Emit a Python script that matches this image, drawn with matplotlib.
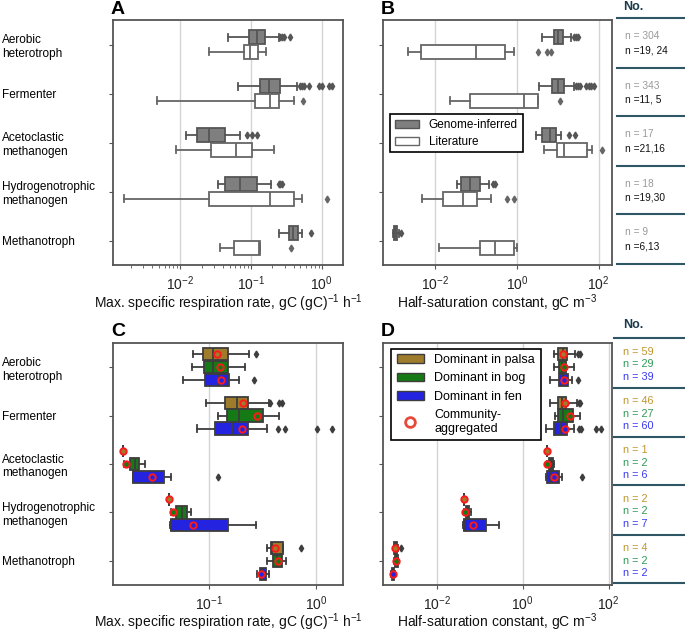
import numpy as np
import matplotlib.pyplot as plt
from matplotlib.patches import Patch
from matplotlib.lines import Line2D
from matplotlib.ticker import NullLocator

plt.rcParams['font.family'] = ['Liberation Sans', 'DejaVu Sans']
plt.rcParams['mathtext.fontset'] = 'custom'
plt.rcParams['mathtext.rm'] = 'Liberation Sans'
plt.rcParams['mathtext.it'] = 'Liberation Sans:italic'
plt.rcParams['mathtext.bf'] = 'Liberation Sans:bold'

categories = ['Aerobic\nheterotroph', 'Fermenter', 'Acetoclastic\nmethanogen',
              'Hydrogenotrophic\nmethanogen', 'Methanotroph']

# box stats per category: [whislo, q1, median, q3, whishi]
# Panel A: max. specific respiration rate
a_genome = [[0.048, 0.094, 0.12, 0.159, 0.246],
            [0.065, 0.132, 0.18, 0.26, 0.445],
            [0.0122, 0.0173, 0.0252, 0.0425, 0.0708],
            [0.0339, 0.0435, 0.069, 0.122, 0.194],
            [0.246, 0.347, 0.39, 0.456, 0.525]]
a_genome_out = [[0.26, 0.274, 0.289, 0.35],
                [0.486, 0.52, 0.554, 0.652, 0.90, 1.0, 1.25, 1.39],
                [0.088, 0.103, 0.122],
                [0.246, 0.26, 0.274],
                [0.71]]
a_lit = [[0.0255, 0.0787, 0.098, 0.124, 0.164],
         [0.0047, 0.115, 0.184, 0.246, 0.40],
         [0.0088, 0.0272, 0.0608, 0.103, 0.209],
         [0.00163, 0.0255, 0.184, 0.409, 0.53],
         [0.0369, 0.0569, 0.13, 0.134, 0.135]]
a_lit_out = [[], [0.54], [], [1.18], [0.37]]

# Panel B: half-saturation constant
b_genome = [[4.09, 7.9, 10.1, 13.4, 21.4],
            [3.4, 7.2, 10.1, 14.4, 25.4],
            [2.97, 4.02, 6.31, 9.02, 12.2],
            [0.034, 0.0434, 0.0693, 0.122, 0.21],
            [0.00092, 0.00099, 0.00105, 0.00115, 0.00126]]
b_genome_out = [[25.4, 28.4, 30.6],
                [27.9, 30.6, 34.3, 49.9, 56.9, 66.1, 75.5],
                [19.1, 26.9],
                [0.258, 0.284],
                [0.00144]]
b_lit = [[0.0021, 0.00445, 0.101, 0.499, 0.86],
         [0.0224, 0.0693, 1.46, 3.21, 3.21],
         [4.67, 9.55, 14.4, 51.8, 68.7],
         [0.00471, 0.0154, 0.0476, 0.105, 0.231],
         [0.0125, 0.122, 0.284, 0.828, 1.0]]
b_lit_out = [[3.27, 5.43, 6.81], [11.1], [121], [0.569, 0.828], []]

# Panel C: respiration rate by habitat
c_palsa = [[0.0704, 0.0885, 0.110, 0.152, 0.238],
           [0.0938, 0.141, 0.181, 0.233, 0.366],
           [0.0158, 0.0158, 0.0158, 0.0158, 0.0158],
           [0.0426, 0.0426, 0.0426, 0.0426, 0.0426],
           [0.351, 0.377, 0.39, 0.488, 0.488]]
c_palsa_out = [[0.275], [0.371, 0.454, 0.477], [], [], [0.719]]
c_palsa_comm = [0.12, 0.207, 0.0158, 0.0426, 0.414]
c_bog = [[0.069, 0.0898, 0.110, 0.152, 0.217],
         [0.122, 0.146, 0.192, 0.322, 0.454],
         [0.0161, 0.0183, 0.0203, 0.0223, 0.0252],
         [0.0442, 0.0492, 0.0556, 0.0618, 0.0674],
         [0.351, 0.394, 0.43, 0.477, 0.521]]
c_bog_out = [[], [], [], [], []]
c_bog_comm = [0.127, 0.279, 0.017, 0.0465, 0.444]
c_fen = [[0.0568, 0.0924, 0.121, 0.155, 0.192],
         [0.0767, 0.114, 0.163, 0.233, 0.346],
         [0.0194, 0.0196, 0.0197, 0.0383, 0.0442],
         [0.0433, 0.044, 0.0445, 0.149, 0.275],
         [0.279, 0.3, 0.322, 0.341, 0.366]]
c_fen_out = [[0.264], [0.444, 0.513, 1.01, 1.40], [0.122], [], []]
c_fen_comm = [0.13, 0.202, 0.0295, 0.0704, 0.304]

# Panel D: half-saturation constant by habitat
d_palsa = [[5.22, 6.59, 8.47, 10.7, 16.7],
           [4.22, 6.48, 8.19, 10.3, 18.3],
           [3.66, 3.66, 3.66, 3.66, 3.66],
           [0.0418, 0.0418, 0.0418, 0.0418, 0.0418],
           [0.00098, 0.001, 0.00107, 0.00117, 0.00126]]
d_palsa_out = [[19.0, 21.1], [20.7, 21.1], [], [], [0.00145]]
d_palsa_comm = [8.47, 9.44, 3.66, 0.0418, 0.00107]
d_bog = [[5.22, 7.1, 8.19, 10.3, 15.3],
         [5.72, 6.59, 8.47, 14.5, 21.1],
         [3.72, 4.0, 4.46, 5.05, 5.42],
         [0.0418, 0.0466, 0.0519, 0.0567, 0.063],
         [0.00101, 0.00103, 0.00112, 0.0012, 0.00122]]
d_bog_out = [[], [], [], [], []]
d_bog_comm = [9.27, 12.8, 3.72, 0.0442, 0.00112]
d_fen = [[4.22, 6.97, 8.19, 11.1, 13.7],
         [3.53, 5.22, 7.48, 10.7, 15.3],
         [3.53, 3.62, 4.61, 6.97, 8.19],
         [0.041, 0.0418, 0.0426, 0.141, 0.274],
         [0.00086, 0.00088, 0.00094, 0.001, 0.00103]]
d_fen_out = [[19.0], [20.7, 22.6, 50.7, 66.2], [23.9], [], []]
d_fen_comm = [9.27, 9.44, 5.42, 0.069, 0.00094]

# sample counts for the side tables
genome_n = ['304', '343', '17', '18', '9']
lit_n = ['19, 24', '11, 5', '21,16', '19,30', '6,13']
palsa_n = [59, 46, 1, 2, 4]
bog_n = [29, 27, 2, 2, 2]
fen_n = [39, 60, 6, 7, 2]

PALSA = '#9e7c2b'
BOG = '#157a15'
FEN = '#2424e0'
EDGE = '#3d3d3d'


def draw_boxes(ax, stats, outs, pos, width, face, edge):
    bx = [dict(whislo=s[0], q1=s[1], med=s[2], q3=s[3], whishi=s[4], fliers=o)
          for s, o in zip(stats, outs)]
    ax.bxp(bx, positions=pos, widths=width, orientation='horizontal',
           patch_artist=True, showfliers=True,
           boxprops=dict(facecolor=face, edgecolor=edge, linewidth=1.3),
           medianprops=dict(color=edge, linewidth=1.3),
           whiskerprops=dict(color=edge, linewidth=1.3),
           capprops=dict(color=edge, linewidth=1.3),
           flierprops=dict(marker='d', markersize=3.5, markerfacecolor=edge,
                           markeredgecolor=edge, linestyle='none'))


def style(ax, xlim, xticks, ylabels, minor=False):
    ax.set_xscale('log')
    ax.set_xlim(*xlim)
    ax.set_ylim(4.5, -0.5)
    ax.set_xticks(xticks)
    if not minor:
        ax.xaxis.set_minor_locator(NullLocator())
    ax.set_yticks(range(5))
    ax.set_yticklabels(categories if ylabels else [], fontsize=8.5, ha='left')
    ax.tick_params(axis='y', pad=77 if ylabels else 3, length=3, color='#555555')
    ax.tick_params(axis='x', labelsize=10, length=3, pad=3.5, color='#555555',
                   labelcolor='#222222')
    ax.tick_params(axis='x', which='minor', length=2, color='#555555')
    ax.xaxis.grid(True, which='major', color='#d4d4d4', linewidth=1)
    ax.set_axisbelow(True)
    for s in ax.spines.values():
        s.set_color('#555555')
        s.set_linewidth(1.3)


fig = plt.figure(figsize=(6.85, 6.32), dpi=100)
W, H = 685, 632


def add_ax(x0, x1, y0, y1):
    return fig.add_axes([x0 / W, 1 - y1 / H, (x1 - x0) / W, (y1 - y0) / H])


axA = add_ax(113, 343, 20, 265)
axB = add_ax(383, 612, 20, 265)
axC = add_ax(113, 343, 343, 585)
axD = add_ax(383, 612, 343, 585)

pos = np.arange(5)
for ax, g, go, l, lo in [(axA, a_genome, a_genome_out, a_lit, a_lit_out),
                         (axB, b_genome, b_genome_out, b_lit, b_lit_out)]:
    draw_boxes(ax, g, go, pos - 0.15, 0.29, '#7f7f7f', '#555555')
    draw_boxes(ax, l, lo, pos + 0.15, 0.29, 'white', '#666666')

groups_c = [(c_palsa, c_palsa_out, c_palsa_comm, PALSA),
            (c_bog, c_bog_out, c_bog_comm, BOG),
            (c_fen, c_fen_out, c_fen_comm, FEN)]
groups_d = [(d_palsa, d_palsa_out, d_palsa_comm, PALSA),
            (d_bog, d_bog_out, d_bog_comm, BOG),
            (d_fen, d_fen_out, d_fen_comm, FEN)]
for ax, groups in [(axC, groups_c), (axD, groups_d)]:
    for k, (st, out, comm, col) in enumerate(groups):
        p = pos + (k - 1) * 0.267
        draw_boxes(ax, st, out, p, 0.255, col, EDGE)
        ax.plot(comm, p, 'o', ms=4.6, mfc=col, mec='#ff1a1a', mew=1.4,
                linestyle='none', zorder=4)

style(axA, (10 ** -2.95, 10 ** 0.3), [1e-2, 1e-1, 1e0], True, minor=True)
style(axB, (10 ** -3.28, 10 ** 2.33), [1e-2, 1e0, 1e2], False)
style(axC, (10 ** -1.894, 10 ** 0.249), [1e-1, 1e0], True)
style(axD, (10 ** -3.26, 10 ** 2.08), [1e-2, 1e0, 1e2], False)

xl_rate = 'Max. specific respiration rate, gC (gC)$^{-1}$ h$^{-1}$'
xl_half = 'Half-saturation constant, gC m$^{-3}$'
for ax, t, lp in [(axA, xl_rate, 0), (axB, xl_half, 0),
                  (axC, xl_rate, -1.2), (axD, xl_half, -1.2)]:
    ax.set_xlabel(t, fontsize=10, color='#111111', labelpad=lp)

# legends
legB = axB.legend(handles=[Patch(facecolor='#7f7f7f', edgecolor='#555555', label='Genome-inferred'),
                           Patch(facecolor='white', edgecolor='#666666', label='Literature')],
                  loc='upper left', bbox_to_anchor=(0.03, 0.615), borderaxespad=0,
                  fontsize=8.5, fancybox=False, framealpha=1, edgecolor='black',
                  handlelength=2.1, handleheight=0.7, handletextpad=0.8,
                  labelspacing=0.4, borderpad=0.4)
legB.get_frame().set_linewidth(1.2)

legD = axD.legend(handles=[Patch(facecolor=PALSA, edgecolor=EDGE, label='Dominant in palsa'),
                           Patch(facecolor=BOG, edgecolor=EDGE, label='Dominant in bog'),
                           Patch(facecolor=FEN, edgecolor=EDGE, label='Dominant in fen'),
                           Line2D([], [], marker='o', ls='none', mfc='none', mec='#e8483a',
                                  mew=2, ms=7, label='Community-\naggregated')],
                  loc='upper left', bbox_to_anchor=(0.035, 0.977), borderaxespad=0,
                  fontsize=9, fancybox=False, framealpha=1, edgecolor='black',
                  handlelength=2.2, handleheight=0.7, handletextpad=0.8,
                  labelspacing=0.5, borderpad=0.45)
legD.get_frame().set_linewidth(1.2)

# panel letters
for t, x, y in [('A', 111, 10), ('B', 381, 10), ('C', 111, 331), ('D', 381, 331)]:
    fig.text(x / W, 1 - y / H, t, fontsize=14, fontweight='bold', va='center', ha='left')

# side tables
LINE = '#2f5665'
HEAD = '#1b3a4b'
fig.text(623 / W, 1 - 7 / H, 'No.', fontsize=9, fontweight='bold', color=HEAD, va='center')
top_lines = [18.3, 67.7, 116.3, 165.7, 214.3, 264.3]
for y in top_lines:
    fig.add_artist(Line2D([617 / W, 1], [1 - y / H] * 2, color=LINE, lw=1.5))
for i in range(5):
    y0 = top_lines[i]
    fig.text(625 / W, 1 - (y0 + 18) / H, 'n = ' + genome_n[i], fontsize=7.3,
             color='#999999', va='center')
    fig.text(625 / W, 1 - (y0 + 32) / H, 'n =' + lit_n[i], fontsize=7.3,
             color='#111111', va='center')

fig.text(623 / W, 1 - 325 / H, 'No.', fontsize=9, fontweight='bold', color=HEAD, va='center')
bot_lines = [338.3, 387.7, 436.7, 485.3, 534.7, 583.3]
for y in bot_lines:
    fig.add_artist(Line2D([614 / W, 1], [1 - y / H] * 2, color=LINE, lw=1.5))
for i in range(5):
    y0 = bot_lines[i]
    for off, n, c in [(13.4, palsa_n[i], '#c0952c'), (26, bog_n[i], '#2e9a55'),
                      (38.4, fen_n[i], '#3a3af0')]:
        fig.text(623 / W, 1 - (y0 + off) / H, 'n = %d' % n, fontsize=7.8,
                 color=c, va='center')

fig.savefig('out.png', dpi=100)
